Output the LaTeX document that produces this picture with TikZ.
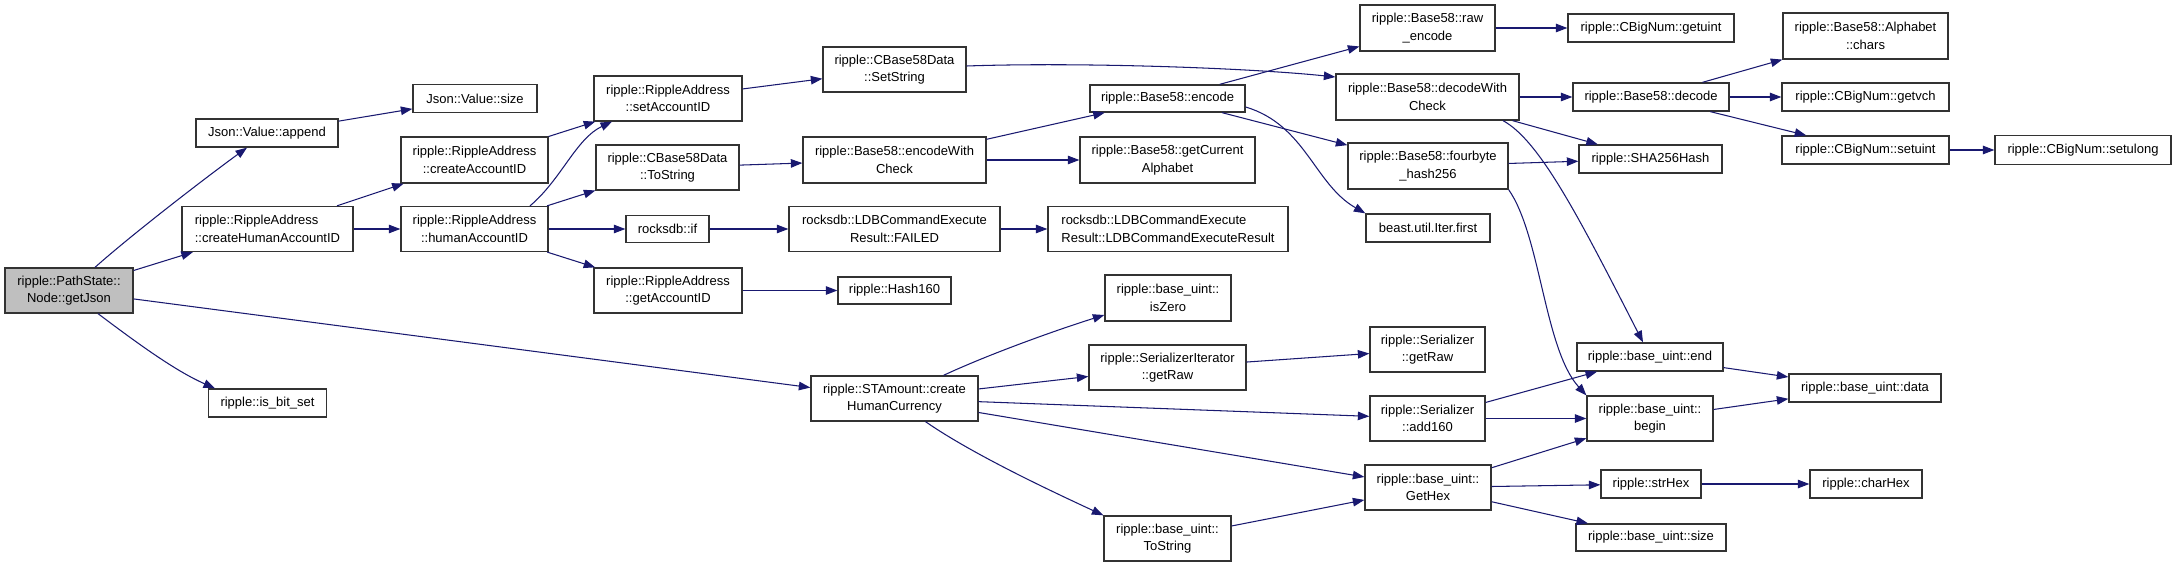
\documentclass[tikz,border=0pt]{standalone}
\usepackage{fontspec}
\setmainfont{Liberation Sans}
\usetikzlibrary{arrows.meta}
\definecolor{edgeblue}{RGB}{25,25,112}
\definecolor{rootgray}{RGB}{191,191,191}
\begin{document}
\begin{tikzpicture}[x=1pt,y=1pt,
  fn/.style={draw=black!80, line width=1.3pt, fill=white, inner sep=0pt, align=center,
             font=\fontsize{13}{17.3}\selectfont, text=black},
  root/.style={fn, fill=rootgray},
  sz/.style 2 args={minimum width=#1pt, minimum height=#2pt},
  e/.style={draw=edgeblue, line width=1.05pt, -{Triangle[length=11.5pt,width=8.5pt]}}]
\useasboundingbox[fill=white] (0,0) rectangle (2176,-567);

% rank 0
\node[root, sz={128}{45}] (getJson) at (69,-290.5) {ripple::PathState::\\Node::getJson};
% rank 1
\node[fn, sz={142}{28}] (append) at (267,-133) {Json::Value::append};
\node[fn, sz={171}{45}, align=left] (cHAID) at (267.5,-229) {ripple::RippleAddress\\::createHumanAccountID};
\node[fn, sz={118}{28}] (isbit) at (267.5,-403) {ripple::is\_bit\_set};
% rank 2
\node[fn, sz={124}{28}] (jsize) at (475,-98.5) {Json::Value::size};
\node[fn, sz={147}{46}] (cAID) at (474.5,-160) {ripple::RippleAddress\\::createAccountID};
\node[fn, sz={147}{45}] (hAID) at (474.5,-229) {ripple::RippleAddress\\::humanAccountID};
% rank 3
\node[fn, sz={148}{45}] (setAID) at (668,-98.5) {ripple::RippleAddress\\::setAccountID};
\node[fn, sz={143}{45}] (tostr) at (667.5,-167.5) {ripple::CBase58Data\\::ToString};
\node[fn, sz={83}{27}] (rif) at (667.5,-229) {rocksdb::if};
\node[fn, sz={148}{45}] (getAID) at (668,-290.5) {ripple::RippleAddress\\::getAccountID};
% rank 4
\node[fn, sz={143}{45}] (setstr) at (894.5,-69.5) {ripple::CBase58Data\\::SetString};
\node[fn, sz={183}{46}] (encchk) at (894.5,-160) {ripple::Base58::encodeWith\\Check};
\node[fn, sz={211}{45}] (failed) at (894.5,-229) {rocksdb::LDBCommandExecute\\Result::FAILED};
\node[fn, sz={113}{27}] (hash160) at (894.5,-290.5) {ripple::Hash160};
\node[fn, sz={167}{45}] (chc) at (894.5,-398.5) {ripple::STAmount::create\\HumanCurrency};
% rank 5
\node[fn, sz={155}{27}] (encode) at (1167.5,-98.5) {ripple::Base58::encode};
\node[fn, sz={175}{46}] (alpha) at (1167.5,-160) {ripple::Base58::getCurrent\\Alphabet};
\node[fn, sz={240}{45}, align=left] (ldb) at (1168,-229) {rocksdb::LDBCommandExecute\\Result::LDBCommandExecuteResult};
\node[fn, sz={126}{46}] (iszero) at (1168,-298) {ripple::base\_uint::\\isZero};
\node[fn, sz={157}{45}] (sitraw) at (1167.5,-367.5) {ripple::SerializerIterator\\::getRaw};
\node[fn, sz={127}{45}] (utostr) at (1167.5,-538.5) {ripple::base\_uint::\\ToString};
% rank 6
\node[fn, sz={135}{46}] (rawenc) at (1427.5,-28) {ripple::Base58::raw\\\_encode};
\node[fn, sz={183}{46}] (decchk) at (1427.5,-97) {ripple::Base58::decodeWith\\Check};
\node[fn, sz={160}{46}] (four) at (1428,-166) {ripple::Base58::fourbyte\\\_hash256};
\node[fn, sz={124}{28}] (iter) at (1428,-228) {beast.util.Iter.first};
\node[fn, sz={115}{45}] (sgetraw) at (1427.5,-349.5) {ripple::Serializer\\::getRaw};
\node[fn, sz={115}{45}] (add160) at (1427.5,-418.5) {ripple::Serializer\\::add160};
\node[fn, sz={126}{45}] (gethex) at (1428,-487.5) {ripple::base\_uint::\\GetHex};
% rank 7
\node[fn, sz={166}{28}] (getuint) at (1651,-28) {ripple::CBigNum::getuint};
\node[fn, sz={156}{28}] (decode) at (1651,-97) {ripple::Base58::decode};
\node[fn, sz={143}{28}] (sha) at (1650.5,-159) {ripple::SHA256Hash};
\node[fn, sz={146}{28}] (uend) at (1650,-357) {ripple::base\_uint::end};
\node[fn, sz={126}{45}] (ubegin) at (1650,-418.5) {ripple::base\_uint::\\begin};
\node[fn, sz={100}{28}] (strhex) at (1651,-484) {ripple::strHex};
\node[fn, sz={150}{27}] (usize) at (1651,-537.5) {ripple::base\_uint::size};
% rank 8
\node[fn, sz={165}{46}] (chars) at (1865.5,-36) {ripple::Base58::Alphabet\\::chars};
\node[fn, sz={167}{28}] (getvch) at (1865.5,-97) {ripple::CBigNum::getvch};
\node[fn, sz={167}{28}] (setuint) at (1865.5,-150) {ripple::CBigNum::setuint};
\node[fn, sz={152}{28}] (data) at (1865,-388) {ripple::base\_uint::data};
\node[fn, sz={112}{28}] (charhex) at (1866,-484) {ripple::charHex};
% rank 9
\node[fn, sz={176}{29}] (setulong) at (2083,-150) {ripple::CBigNum::setulong};

% edges
\draw[e] ([xshift=26pt]getJson.north) .. controls +(37,33) and +(-40,-29) .. ([xshift=-20pt]append.south);
\draw[e] (getJson) -- (cHAID);
\draw[e] (getJson) -- (chc);
\draw[e] ([xshift=29pt]getJson.south) .. controls +(36,-27) and +(-41,18) .. ([xshift=-52.5pt]isbit.north);
\draw[e] (append) -- (jsize);
\draw[e] (cHAID) -- (cAID);
\draw[e] (cHAID) -- (hAID);
\draw[e] (cAID) -- (setAID);
\draw[e] ([xshift=55.5pt]hAID.north) .. controls +(31,26) and +(-36,-17) .. ([xshift=-56pt]setAID.south);
\draw[e] (hAID) -- (tostr);
\draw[e] (hAID) -- (rif);
\draw[e] (hAID) -- (getAID);
\draw[e] (setAID) -- (setstr);
\draw[e] (tostr) -- (encchk);
\draw[e] (rif) -- (failed);
\draw[e] (failed) -- (ldb);
\draw[e] (getAID) -- (hash160);
\draw[e] ([yshift=3.5pt]setstr.east) .. controls +(114,4) and +(-86,9) .. ([yshift=20pt]decchk.west);
\draw[e] (encchk) -- (encode);
\draw[e] (encchk) -- (alpha);
\draw[e] (encode) -- (rawenc);
\draw[e] (encode) -- (four);
\draw[e] ([yshift=-8.5pt]encode.east) .. controls +(60,-18) and +(-51,29) .. (iter.north west);
\draw[e] (rawenc) -- (getuint);
\draw[e] (decchk) -- (decode);
\draw[e] (decchk) -- (sha);
\draw[e] ([xshift=75.5pt]decchk.south) .. controls +(37,-20) and +(-63,123) .. ([xshift=-7pt]uend.north);
\draw[e] (four) -- (sha);
\draw[e] (four.south east) .. controls +(32,-46) and +(-42,46) .. (ubegin.north west);
\draw[e] (decode) -- (chars);
\draw[e] (decode) -- (getvch);
\draw[e] (decode) -- (setuint);
\draw[e] (setuint) -- (setulong);
\draw[e] ([xshift=49pt]chc.north) .. controls +(45,21) and +(-48,-15) .. ([yshift=-17pt]iszero.west);
\draw[e] (chc) -- (sitraw);
\draw[e] (chc) -- (add160);
\draw[e] (chc) -- (gethex);
\draw[e] ([xshift=31pt]chc.south) .. controls +(49,-34) and +(-45,21) .. (utostr.north west);
\draw[e] (sitraw) -- (sgetraw);
\draw[e] (add160) -- (uend);
\draw[e] (add160) -- (ubegin);
\draw[e] (gethex) -- (ubegin);
\draw[e] (gethex) -- (strhex);
\draw[e] (gethex) -- (usize);
\draw[e] (utostr) -- (gethex);
\draw[e] (uend) -- (data);
\draw[e] (ubegin) -- (data);
\draw[e] (strhex) -- (charhex);
\end{tikzpicture}
\end{document}
